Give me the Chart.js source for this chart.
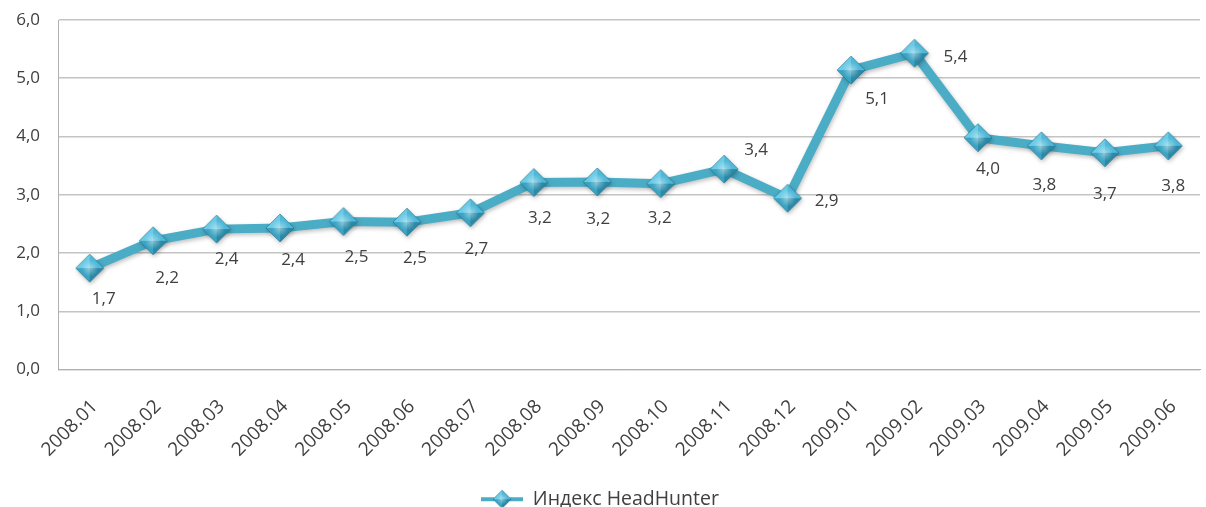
<!DOCTYPE html>
<html>
<head>
<meta charset="utf-8">
<script src="https://cdn.jsdelivr.net/npm/chart.js@4.4.1/dist/chart.umd.min.js"></script>
<style>
  html, body { margin: 0; padding: 0; background: #fff; }
  #wrap { width: 1206px; height: 507px; }
</style>
</head>
<body>
<div id="wrap"><canvas id="hhChart" width="1206" height="507"></canvas></div>
<script>
const months = ['2008.01', '2008.02', '2008.03', '2008.04', '2008.05', '2008.06',
  '2008.07', '2008.08', '2008.09', '2008.10', '2008.11', '2008.12',
  '2009.01', '2009.02', '2009.03', '2009.04', '2009.05', '2009.06'];
const hhIndex = [1.74, 2.21, 2.41, 2.43, 2.54, 2.53, 2.69, 3.21, 3.22, 3.19,
  3.44, 2.94, 5.14, 5.43, 3.98, 3.84, 3.72, 3.84];
const seriesName = 'Индекс HeadHunter';
const yTicks = [0, 1, 2, 3, 4, 5, 6];

// where each value label sits relative to its marker (px)
const labelDx = [14, 14, 10, 13, 13, 8, 6, 6, 1, -1, 32, 39, 26, 41, 10, 3, 0, 5];
const labelDy = [31, 37, 30, 32, 36, 36, 36, 36, 37, 34, -19, 3, 29, 4, 31, 39, 41, 40];

const FONT = '"Open Sans", "Noto Sans", sans-serif';
const TEXT = '#404040';
const LINE = '#4bacc6';

const fmt = v => v.toFixed(1).replace('.', ',');

// diamond marker with facets, like the Excel one
function makeDiamond(r) {
  const c = document.createElement('canvas');
  c.width = c.height = r * 2 + 2;
  const g = c.getContext('2d');
  const cx = r + 1, cy = r + 1;
  const facet = (pts, col) => {
    g.beginPath();
    g.moveTo(cx, cy);
    pts.forEach(p => g.lineTo(p[0], p[1]));
    g.closePath();
    g.fillStyle = col;
    g.fill();
  };
  facet([[cx, cy - r], [cx - r, cy]], '#6ccbe6');
  facet([[cx, cy - r], [cx + r, cy]], '#4fb8d8');
  facet([[cx - r, cy], [cx, cy + r]], '#3aa3c3');
  facet([[cx + r, cy], [cx, cy + r]], '#2a89a7');
  const rg = g.createRadialGradient(cx, cy, 0, cx, cy, r * 0.6);
  rg.addColorStop(0, 'rgba(255,255,255,0.45)');
  rg.addColorStop(1, 'rgba(255,255,255,0)');
  g.beginPath();
  g.moveTo(cx, cy - r); g.lineTo(cx + r, cy); g.lineTo(cx, cy + r); g.lineTo(cx - r, cy);
  g.closePath();
  g.fillStyle = rg;
  g.fill();
  g.strokeStyle = 'rgba(30,110,135,0.6)';
  g.lineWidth = 1;
  g.stroke();
  return c;
}

function makeLegendIcon() {
  const c = document.createElement('canvas');
  c.width = 42; c.height = 22;
  const g = c.getContext('2d');
  g.strokeStyle = LINE;
  g.lineWidth = 4;
  g.beginPath(); g.moveTo(0, 11); g.lineTo(42, 11); g.stroke();
  g.drawImage(makeDiamond(9), 21 - 10, 11 - 10);
  return c;
}

const marker = makeDiamond(14);
const legendIcon = makeLegendIcon();

const valueLabels = {
  id: 'valueLabels',
  afterDatasetsDraw(chart) {
    const ctx = chart.ctx;
    const meta = chart.getDatasetMeta(0);
    ctx.save();
    ctx.font = '17px ' + FONT;
    ctx.fillStyle = TEXT;
    ctx.textAlign = 'center';
    ctx.textBaseline = 'middle';
    meta.data.forEach((pt, i) => {
      ctx.fillText(fmt(hhIndex[i]), pt.x + labelDx[i], pt.y + labelDy[i]);
    });
    ctx.restore();
  }
};

const lineShadow = {
  id: 'lineShadow',
  beforeDatasetDraw(chart) {
    const ctx = chart.ctx;
    ctx.save();
    ctx.shadowColor = 'rgba(0,0,0,0.25)';
    ctx.shadowBlur = 4;
    ctx.shadowOffsetX = 1;
    ctx.shadowOffsetY = 2;
  },
  afterDatasetDraw(chart) {
    chart.ctx.restore();
  }
};

// nudge the legend a little lower, closer to the bottom edge
const legendNudge = {
  id: 'legendNudge',
  afterLayout(chart) {
    if (chart.legend) {
      chart.legend.top += 12;
      chart.legend.bottom += 12;
    }
  }
};

new Chart(document.getElementById('hhChart').getContext('2d'), {
  type: 'line',
  data: {
    labels: months,
    datasets: [{
      label: seriesName,
      data: hhIndex,
      borderColor: LINE,
      borderWidth: 9,
      tension: 0,
      pointStyle: marker,
      pointRadius: 14,
      pointHoverRadius: 14,
      fill: false,
      clip: false
    }]
  },
  options: {
    responsive: false,
    animation: false,
    layout: { autoPadding: false, padding: { top: 20, right: 6, bottom: 0, left: 0 } },
    scales: {
      x: {
        offset: true,
        grid: { display: false, drawTicks: false },
        border: { display: true, color: '#b0b0b0', width: 1 },
        ticks: {
          color: TEXT,
          font: { family: FONT, size: 19 },
          minRotation: 45,
          maxRotation: 45,
          autoSkip: false,
          padding: 26,
          labelOffset: 5
        },
        afterFit(scale) {
          scale.height = 106;
          scale.paddingLeft = 0;
          scale.paddingRight = 0;
        }
      },
      y: {
        min: 0,
        max: 6,
        afterBuildTicks(scale) { scale.ticks = yTicks.map(v => ({ value: v })); },
        grid: { color: '#c4c4c4', lineWidth: 1.5, drawTicks: false },
        border: { display: true, color: '#b0b0b0', width: 1 },
        ticks: {
          color: TEXT,
          font: { family: FONT, size: 17 },
          padding: 18,
          callback: v => fmt(v)
        },
        afterFit(scale) {
          scale.width = 58;
          scale.paddingTop = 0;
          scale.paddingBottom = 0;
        }
      }
    },
    plugins: {
      tooltip: { enabled: false },
      legend: {
        position: 'bottom',
        labels: {
          usePointStyle: true,
          pointStyleWidth: 42,
          color: TEXT,
          font: { family: FONT, size: 19.5 },
          padding: 2,
          generateLabels(chart) {
            return [{
              text: seriesName,
              pointStyle: legendIcon,
              fontColor: TEXT,
              datasetIndex: 0,
              lineWidth: 0,
              strokeStyle: 'transparent',
              fillStyle: 'transparent'
            }];
          }
        }
      }
    }
  },
  plugins: [lineShadow, valueLabels, legendNudge]
});
</script>
</body>
</html>
